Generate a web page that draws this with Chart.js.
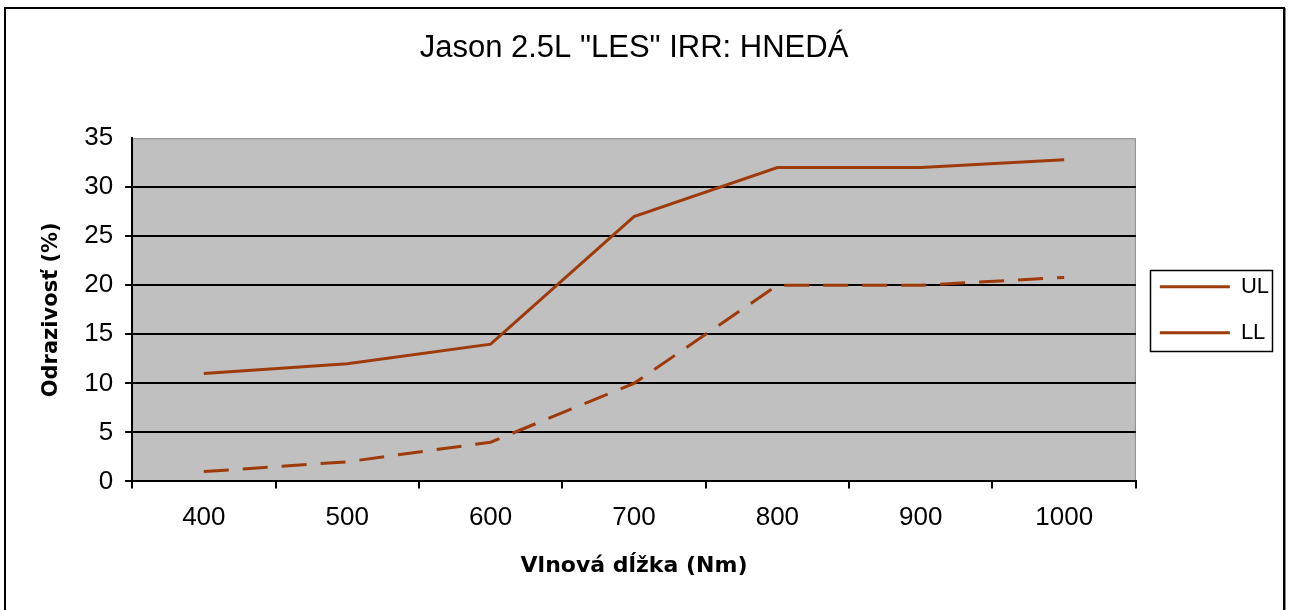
<!DOCTYPE html>
<html>
<head>
<meta charset="utf-8">
<title>Jason 2.5L LES IRR</title>
<script src="https://cdn.jsdelivr.net/npm/chart.js@4/dist/chart.umd.min.js"></script>
<style>
  html, body { margin: 0; padding: 0; background: #fff; }
  #wrap { position: relative; width: 1290px; height: 610px; overflow: hidden; }
  #frame {
    position: absolute; left: 4px; top: 7px; width: 1277px; height: 640px;
    border: 2px solid #000; box-shadow: 1px 1px 0 #888; pointer-events: none;
  }
  canvas { position: absolute; left: 0; top: 0; }
</style>
</head>
<body>
<div id="wrap">
  <canvas id="chart" width="1290" height="610"></canvas>
  <div id="frame"></div>
</div>
<script>
// data
const kategorie = ['400', '500', '600', '700', '800', '900', '1000'];
const hodnotyUL = [11, 12, 14, 27, 32, 32, 32.8];
const hodnotyLL = [1, 2, 4, 10, 20, 20, 20.8];
const osY = [0, 5, 10, 15, 20, 25, 30, 35];

const hneda = '#9E3B0B';

// sede pozadie grafu + ramik
const pozadie = {
  id: 'pozadie',
  beforeDraw(chart) {
    const a = chart.chartArea;
    const ctx = chart.ctx;
    ctx.save();
    ctx.fillStyle = '#C0C0C0';
    ctx.fillRect(a.left, a.top, a.right - a.left, a.bottom - a.top);
    ctx.strokeStyle = '#8C8C8C';
    ctx.lineWidth = 1;
    ctx.strokeRect(a.left + 0.5, a.top + 0.5, a.right - a.left - 1, a.bottom - a.top - 1);
    ctx.restore();
  }
};

// ramik okolo legendy
const ramLegendy = {
  id: 'ramLegendy',
  afterDraw(chart) {
    const hb = chart.legend && chart.legend.legendHitBoxes;
    if (!hb || !hb.length) return;
    const ctx = chart.ctx;
    const l = hb[0].left - 10;
    const r = Math.max(...hb.map(h => h.left + h.width)) + 3;
    const t = hb[0].top - 6;
    const last = hb[hb.length - 1];
    const b = last.top + last.height + 7;
    ctx.save();
    ctx.strokeStyle = '#000';
    ctx.lineWidth = 1.5;
    ctx.strokeRect(Math.round(l) + 0.5, Math.round(t) + 0.5, Math.round(r - l), Math.round(b - t));
    ctx.restore();
  }
};

new Chart(document.getElementById('chart'), {
  type: 'line',
  data: {
    labels: kategorie,
    datasets: [{
      label: 'UL',
      data: hodnotyUL,
      borderColor: hneda,
      backgroundColor: hneda,
      borderWidth: 3,
      pointRadius: 0,
      tension: 0,
      fill: false
    }, {
      label: 'LL',
      data: hodnotyLL,
      borderColor: hneda,
      backgroundColor: hneda,
      borderWidth: 3,
      borderDash: [25, 14],
      pointRadius: 0,
      tension: 0,
      fill: false
    }]
  },
  options: {
    responsive: false,
    animation: false,
    layout: { padding: { top: 8, left: 8, right: 11, bottom: 10 } },
    plugins: {
      title: {
        display: true,
        text: 'Jason 2.5L "LES" IRR: HNEDÁ',
        fullSize: false,
        color: '#000',
        font: { family: '"Liberation Sans", Arial, sans-serif', size: 31, weight: 'normal' },
        padding: { top: 22, bottom: 71 }
      },
      legend: {
        position: 'right',
        fullSize: false,
        labels: {
          usePointStyle: true,
          pointStyle: 'line',
          pointStyleWidth: 70,
          padding: 24,
          color: '#000',
          font: { family: '"Liberation Sans", Arial, sans-serif', size: 22 }
        }
      },
      tooltip: { enabled: false }
    },
    scales: {
      x: {
        offset: true,
        grid: {
          offset: true,
          drawOnChartArea: false,
          drawTicks: true,
          tickLength: 7,
          color: '#000',
          lineWidth: 2
        },
        border: { display: true, color: '#000', width: 2 },
        ticks: {
          color: '#000',
          padding: 14,
          font: { family: '"Liberation Sans", Arial, sans-serif', size: 26 }
        },
        title: {
          display: true,
          text: 'Vlnová dĺžka (Nm)',
          color: '#000',
          font: { family: '"DejaVu Sans", Verdana, sans-serif', size: 22, weight: 'bold' },
          padding: { top: 5, bottom: 21 }
        }
      },
      y: {
        min: 0,
        max: 35,
        afterBuildTicks(scale) {
          scale.ticks = osY.map(v => ({ value: v }));
        },
        grid: {
          color: c => (c.tick && c.tick.value === 35) ? 'rgba(0,0,0,0)' : '#000',
          lineWidth: 2,
          tickLength: 7,
          drawTicks: true
        },
        border: { display: true, color: '#000', width: 2 },
        ticks: {
          color: '#000',
          padding: 12,
          font: { family: '"Liberation Sans", Arial, sans-serif', size: 26 }
        },
        title: {
          display: true,
          text: 'Odrazivosť (%)',
          color: '#000',
          font: { family: '"DejaVu Sans", Verdana, sans-serif', size: 21, weight: 'bold' },
          padding: { top: 31, bottom: 8 }
        }
      }
    }
  },
  plugins: [pozadie, ramLegendy]
});
</script>
</body>
</html>
